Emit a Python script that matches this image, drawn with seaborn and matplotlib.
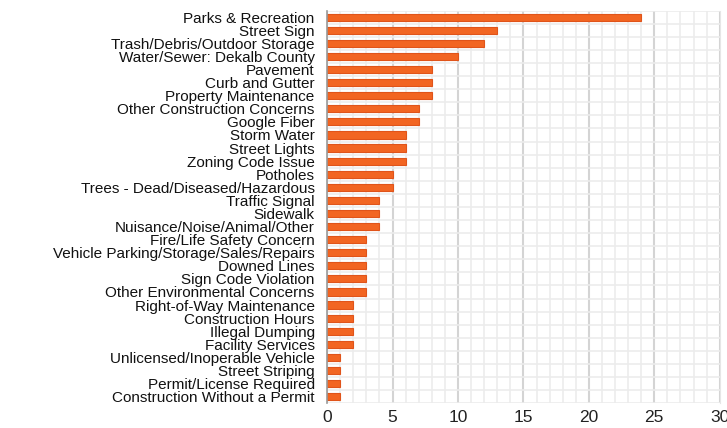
import numpy as np
import pandas as pd
import matplotlib
matplotlib.use("Agg")
import matplotlib.pyplot as plt
import seaborn as sns
from matplotlib.ticker import MultipleLocator, FixedLocator

categories = [
    "Parks & Recreation", "Street Sign", "Trash/Debris/Outdoor Storage",
    "Water/Sewer: Dekalb County", "Pavement", "Curb and Gutter",
    "Property Maintenance", "Other Construction Concerns", "Google Fiber",
    "Storm Water", "Street Lights", "Zoning Code Issue", "Potholes",
    "Trees - Dead/Diseased/Hazardous", "Traffic Signal", "Sidewalk",
    "Nuisance/Noise/Animal/Other", "Fire/Life Safety Concern",
    "Vehicle Parking/Storage/Sales/Repairs", "Downed Lines",
    "Sign Code Violation", "Other Environmental Concerns",
    "Right-of-Way Maintenance", "Construction Hours", "Illegal Dumping",
    "Facility Services", "Unlicensed/Inoperable Vehicle", "Street Striping",
    "Permit/License Required", "Construction Without a Permit",
]
counts = [24, 13, 12, 10, 8, 8, 8, 7, 7, 6, 6, 6, 5, 5, 4, 4, 4,
          3, 3, 3, 3, 3, 2, 2, 2, 2, 1, 1, 1, 1]

df = pd.DataFrame({"category": categories, "count": counts})

sns.set_style("white")
plt.rcParams["font.family"] = ["Liberation Sans", "DejaVu Sans"]

fig = plt.figure(figsize=(7.27, 4.28), dpi=100)
ax = fig.add_axes([0.45, 0.058, 0.54, 0.917])

sns.barplot(data=df, x="count", y="category", orient="h", ax=ax,
            color="#F26522", edgecolor="#E0541A", linewidth=0.8,
            width=0.55, saturation=1)

ax.set_xlim(0, 30)
ax.set_ylim(len(categories) - 0.5, -0.5)
ax.xaxis.set_major_locator(MultipleLocator(5))
ax.xaxis.set_minor_locator(MultipleLocator(1))
ax.yaxis.set_minor_locator(FixedLocator(np.arange(-0.5, len(categories), 1)))

ax.grid(which="minor", axis="x", color="#ececec", linewidth=1.2)
ax.grid(which="major", axis="x", color="#d4d4d4", linewidth=1.5)
ax.grid(which="minor", axis="y", color="#ececec", linewidth=1.2)
ax.set_axisbelow(True)

for s in ["top", "bottom"]:
    ax.spines[s].set_visible(False)
ax.spines["right"].set_color("#e6e6e6")
ax.spines["left"].set_color("#999999")
ax.spines["left"].set_linewidth(1.2)

ax.tick_params(axis="y", which="major", length=5, color="#999999",
               labelsize=11, pad=4, colors="#999999", labelcolor="#111111")
ax.tick_params(axis="y", which="minor", length=0)
ax.tick_params(axis="x", which="both", length=0, labelsize=12.5, pad=5,
               labelcolor="#222222")

ax.set_xlabel("")
ax.set_ylabel("")

fig.savefig("out.png", dpi=100)
